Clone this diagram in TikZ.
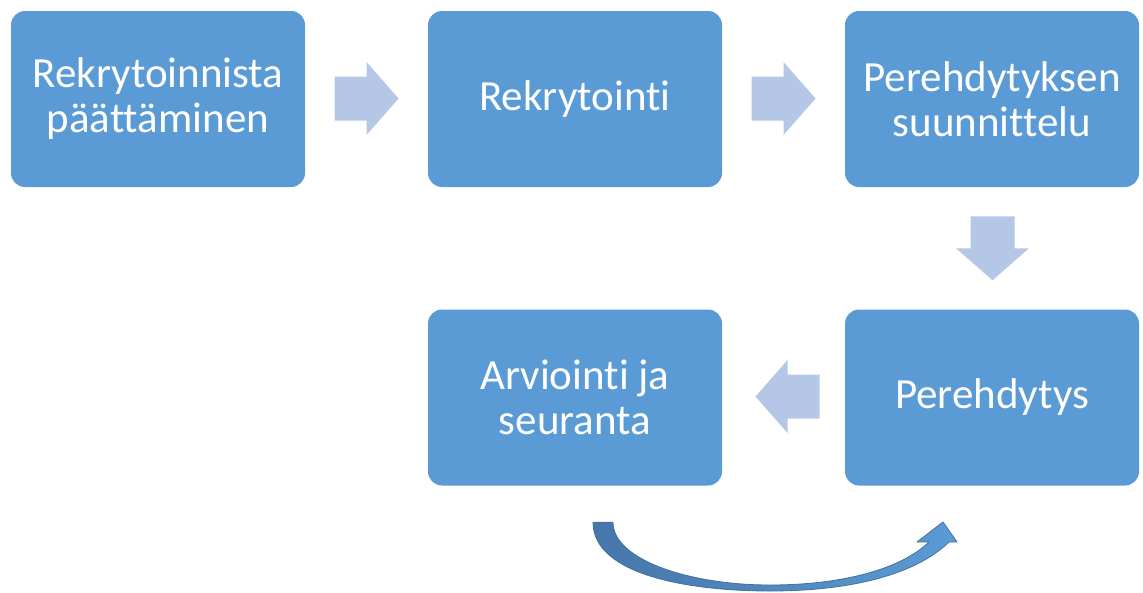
\documentclass[tikz,border=0pt]{standalone}
\usepackage{fontspec}
\setmainfont[Ligatures=NoCommon]{Carlito}
\usetikzlibrary{calc}
\definecolor{boxblue}{HTML}{5B9BD5}
\definecolor{arrowpale}{HTML}{B4C7E7}
\definecolor{curvedark}{HTML}{4676AA}
\definecolor{curvelight}{HTML}{5B9BD5}
\definecolor{curveedge}{HTML}{41719C}
\begin{document}
\begin{tikzpicture}[x=1pt,y=-1pt,
  stagebox/.style={rectangle, rounded corners=14pt, fill=boxblue, draw=none,
    minimum width=294pt, minimum height=176pt, inner sep=0pt,
    text=white, align=center, font=\fontsize{43}{45}\selectfont},
  blockarrow/.pic={\fill[arrowpale] (-32,-22) -- (0,-22) -- (0,-36.5) -- (32,0)
      -- (0,36.5) -- (0,22) -- (-32,22) -- cycle;}]
\useasboundingbox (0,0) rectangle (1143,592);

% process stages
\node[stagebox] (s1) at (158,99)    {Rekrytoinnista\\päättäminen};
\node[stagebox] (s2) at (575,99)    {Rekrytointi};
\node[stagebox] (s3) at (992,99)    {Perehdytyksen\\suunnittelu};
\node[stagebox] (s4) at (992,397.5) {Perehdytys};
\node[stagebox] (s5) at (575,397.5) {Arviointi ja\\seuranta};

% block arrows between the stages
\pic (a12) at ($(s1.east)!0.5!(s2.west)+(0,-0.5)$) {blockarrow};
\pic (a23) at ($(s2.east)!0.5!(s3.west)+(0,-0.5)$) {blockarrow};
\pic[rotate=-90] (a34) at ($(s3.south)!0.5!(s4.north)+(0.5,0)$) {blockarrow};
\pic[rotate=180] (a45) at ($(s4.west)!0.5!(s5.east)+(4,-1)$) {blockarrow};

% curved return arrow under the last two stages
\coordinate (cstart) at ($(s5.south)+(18,36.5)$);
\shade[left color=curvedark, right color=curvelight, draw=curveedge, line width=0.8pt,
       line join=round]
  (cstart) .. controls +(0,53) and (690,591) .. (770,591)
  .. controls (850,591) and (915,575) .. (949,542)
  -- (957,542) -- (943,522) -- (917,542) -- (929,542)
  .. controls (900,570) and (840,585) .. (770,585)
  .. controls (690,585) and (613,560) .. ($(cstart)+(20,0)$) -- cycle;
\end{tikzpicture}
\end{document}
